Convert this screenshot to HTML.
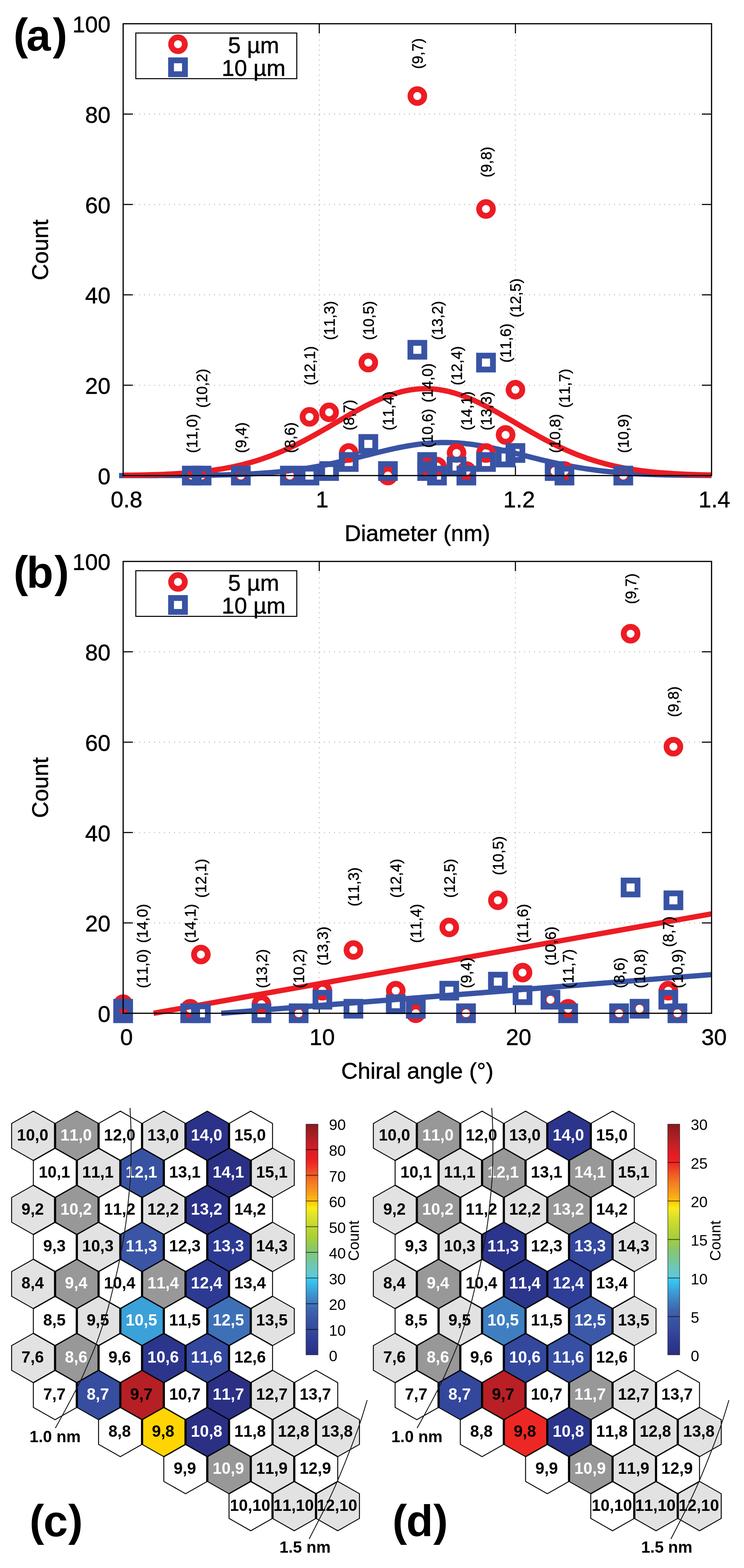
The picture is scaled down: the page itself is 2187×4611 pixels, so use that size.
<!DOCTYPE html>
<html lang="en"><head><meta charset="utf-8"><title>Chirality distribution</title>
<style>
html,body{margin:0;padding:0;background:#fff;}
body{width:2187px;height:4611px;overflow:hidden;}
svg{display:block;}
text{font-family:"Liberation Sans", sans-serif;fill:#000;font-kerning:none;}
.tk{font-size:67px;stroke:#000;stroke-width:0.8px;}
.pl{font-size:44px;stroke:#000;stroke-width:0.7px;}
.pn{font-size:129px;font-weight:bold;}
.ht{font-size:47.5px;font-weight:bold;text-anchor:middle;}
.hl{font-size:47.5px;font-weight:bold;text-anchor:middle;}
.cb{font-size:44.5px;}
text.w{fill:#fff;}
.grid{stroke:#b9b9b9;stroke-width:2.8;stroke-dasharray:2.8 11.9;}
.tick{stroke:#000;stroke-width:3.2;}
.frame{fill:none;stroke:#000;stroke-width:3.5;}
.cv{fill:none;stroke-width:15.6;stroke-linejoin:round;}
.mk{fill:none;stroke-width:17.1;}
.he{fill:none;stroke:#000;stroke-linecap:round;}
.arc{fill:none;stroke:#1a1a1a;stroke-width:2.6;}
</style></head><body>
<svg width="2187" height="4611" viewBox="0 0 2187 4611" role="img" aria-label="Chirality distribution plots">
<defs><linearGradient id="jet" x1="0" y1="1" x2="0" y2="0">
<stop offset="0.0000" stop-color="#2a2d82"/>
<stop offset="0.0640" stop-color="#2e3c96"/>
<stop offset="0.1070" stop-color="#34499e"/>
<stop offset="0.1490" stop-color="#3953a4"/>
<stop offset="0.1910" stop-color="#3d62ae"/>
<stop offset="0.2330" stop-color="#3f7fc1"/>
<stop offset="0.2760" stop-color="#3a9fd8"/>
<stop offset="0.3180" stop-color="#35c4ef"/>
<stop offset="0.3430" stop-color="#5fc9d8"/>
<stop offset="0.3820" stop-color="#6dc8b5"/>
<stop offset="0.4240" stop-color="#7cc68d"/>
<stop offset="0.4660" stop-color="#8cc863"/>
<stop offset="0.5040" stop-color="#a6ce39"/>
<stop offset="0.5510" stop-color="#bdd631"/>
<stop offset="0.5930" stop-color="#d7e02a"/>
<stop offset="0.6350" stop-color="#f8ec1c"/>
<stop offset="0.6570" stop-color="#ffd200"/>
<stop offset="0.6730" stop-color="#fdb913"/>
<stop offset="0.6990" stop-color="#f9a01b"/>
<stop offset="0.7410" stop-color="#f47f20"/>
<stop offset="0.7830" stop-color="#f15a22"/>
<stop offset="0.8170" stop-color="#ee3524"/>
<stop offset="0.8470" stop-color="#ed1c24"/>
<stop offset="0.8680" stop-color="#e51c24"/>
<stop offset="0.9100" stop-color="#c62026"/>
<stop offset="0.9530" stop-color="#a81e22"/>
<stop offset="1.0000" stop-color="#8a1a1b"/>
</linearGradient></defs>
<rect width="2187" height="4611" fill="#fff"/>
<g id="plot-a">
<line x1="394.0" y1="1132.8" x2="2059.6" y2="1132.8" class="grid"/>
<line x1="394.0" y1="867.0" x2="2059.6" y2="867.0" class="grid"/>
<line x1="394.0" y1="601.3" x2="2059.6" y2="601.3" class="grid"/>
<line x1="394.0" y1="335.5" x2="2059.6" y2="335.5" class="grid"/>
<line x1="938.5" y1="101.8" x2="938.5" y2="1366.5" class="grid"/>
<line x1="1515.1" y1="101.8" x2="1515.1" y2="1366.5" class="grid"/>
<line x1="362.0" y1="1132.8" x2="390.5" y2="1132.8" class="tick"/>
<line x1="2091.6" y1="1132.8" x2="2063.1" y2="1132.8" class="tick"/>
<line x1="362.0" y1="867.0" x2="390.5" y2="867.0" class="tick"/>
<line x1="2091.6" y1="867.0" x2="2063.1" y2="867.0" class="tick"/>
<line x1="362.0" y1="601.3" x2="390.5" y2="601.3" class="tick"/>
<line x1="2091.6" y1="601.3" x2="2063.1" y2="601.3" class="tick"/>
<line x1="362.0" y1="335.5" x2="390.5" y2="335.5" class="tick"/>
<line x1="2091.6" y1="335.5" x2="2063.1" y2="335.5" class="tick"/>
<line x1="938.5" y1="69.8" x2="938.5" y2="98.3" class="tick"/>
<line x1="938.5" y1="1398.5" x2="938.5" y2="1370.0" class="tick"/>
<line x1="1515.1" y1="69.8" x2="1515.1" y2="98.3" class="tick"/>
<line x1="1515.1" y1="1398.5" x2="1515.1" y2="1370.0" class="tick"/>
<polyline class="cv" stroke="#3953a4" points="350.0,1398.5 362.0,1398.5 369.2,1398.5 376.4,1398.5 383.6,1398.5 390.8,1398.5 398.0,1398.5 405.2,1398.4 412.4,1398.4 419.7,1398.4 426.9,1398.4 434.1,1398.4 441.3,1398.4 448.5,1398.4 455.7,1398.4 462.9,1398.4 470.1,1398.3 477.3,1398.3 484.5,1398.3 491.7,1398.3 498.9,1398.3 506.1,1398.2 513.3,1398.2 520.5,1398.2 527.8,1398.1 535.0,1398.1 542.2,1398.0 549.4,1398.0 556.6,1397.9 563.8,1397.9 571.0,1397.8 578.2,1397.8 585.4,1397.7 592.6,1397.6 599.8,1397.5 607.0,1397.4 614.2,1397.3 621.4,1397.2 628.6,1397.1 635.9,1396.9 643.1,1396.8 650.3,1396.7 657.5,1396.5 664.7,1396.3 671.9,1396.1 679.1,1395.9 686.3,1395.7 693.5,1395.4 700.7,1395.2 707.9,1394.9 715.1,1394.6 722.3,1394.3 729.5,1394.0 736.7,1393.6 744.0,1393.2 751.2,1392.8 758.4,1392.4 765.6,1391.9 772.8,1391.4 780.0,1390.9 787.2,1390.4 794.4,1389.8 801.6,1389.2 808.8,1388.6 816.0,1387.9 823.2,1387.2 830.4,1386.5 837.6,1385.7 844.8,1384.9 852.1,1384.0 859.3,1383.1 866.5,1382.2 873.7,1381.2 880.9,1380.2 888.1,1379.2 895.3,1378.1 902.5,1376.9 909.7,1375.7 916.9,1374.5 924.1,1373.3 931.3,1372.0 938.5,1370.6 945.7,1369.3 952.9,1367.8 960.2,1366.4 967.4,1364.9 974.6,1363.4 981.8,1361.8 989.0,1360.2 996.2,1358.6 1003.4,1356.9 1010.6,1355.2 1017.8,1353.5 1025.0,1351.8 1032.2,1350.0 1039.4,1348.3 1046.6,1346.5 1053.8,1344.7 1061.0,1342.9 1068.3,1341.0 1075.5,1339.2 1082.7,1337.4 1089.9,1335.6 1097.1,1333.8 1104.3,1332.0 1111.5,1330.2 1118.7,1328.5 1125.9,1326.7 1133.1,1325.0 1140.3,1323.3 1147.5,1321.7 1154.7,1320.1 1161.9,1318.5 1169.1,1317.0 1176.4,1315.5 1183.6,1314.1 1190.8,1312.8 1198.0,1311.5 1205.2,1310.3 1212.4,1309.1 1219.6,1308.0 1226.8,1307.0 1234.0,1306.1 1241.2,1305.2 1248.4,1304.4 1255.6,1303.7 1262.8,1303.1 1270.0,1302.6 1277.2,1302.2 1284.5,1301.8 1291.7,1301.6 1298.9,1301.4 1306.1,1301.4 1313.3,1301.4 1320.5,1301.5 1327.7,1301.7 1334.9,1302.0 1342.1,1302.4 1349.3,1302.9 1356.5,1303.5 1363.7,1304.1 1370.9,1304.9 1378.1,1305.7 1385.3,1306.6 1392.6,1307.6 1399.8,1308.7 1407.0,1309.8 1414.2,1311.0 1421.4,1312.3 1428.6,1313.6 1435.8,1315.0 1443.0,1316.4 1450.2,1317.9 1457.4,1319.5 1464.6,1321.0 1471.8,1322.7 1479.0,1324.3 1486.2,1326.0 1493.4,1327.8 1500.7,1329.5 1507.9,1331.3 1515.1,1333.1 1522.3,1334.9 1529.5,1336.7 1536.7,1338.5 1543.9,1340.3 1551.1,1342.1 1558.3,1343.9 1565.5,1345.7 1572.7,1347.5 1579.9,1349.3 1587.1,1351.1 1594.3,1352.8 1601.5,1354.5 1608.8,1356.2 1616.0,1357.9 1623.2,1359.6 1630.4,1361.2 1637.6,1362.7 1644.8,1364.3 1652.0,1365.8 1659.2,1367.3 1666.4,1368.7 1673.6,1370.1 1680.8,1371.4 1688.0,1372.8 1695.2,1374.0 1702.4,1375.3 1709.6,1376.5 1716.9,1377.6 1724.1,1378.7 1731.3,1379.8 1738.5,1380.8 1745.7,1381.8 1752.9,1382.7 1760.1,1383.7 1767.3,1384.5 1774.5,1385.4 1781.7,1386.1 1788.9,1386.9 1796.1,1387.6 1803.3,1388.3 1810.5,1389.0 1817.7,1389.6 1825.0,1390.2 1832.2,1390.7 1839.4,1391.2 1846.6,1391.7 1853.8,1392.2 1861.0,1392.6 1868.2,1393.1 1875.4,1393.5 1882.6,1393.8 1889.8,1394.2 1897.0,1394.5 1904.2,1394.8 1911.4,1395.1 1918.6,1395.3 1925.8,1395.6 1933.1,1395.8 1940.3,1396.0 1947.5,1396.2 1954.7,1396.4 1961.9,1396.6 1969.1,1396.7 1976.3,1396.9 1983.5,1397.0 1990.7,1397.2 1997.9,1397.3 2005.1,1397.4 2012.3,1397.5 2019.5,1397.6 2026.7,1397.7 2033.9,1397.7 2041.2,1397.8 2048.4,1397.9 2055.6,1397.9 2062.8,1398.0 2070.0,1398.0 2077.2,1398.1 2084.4,1398.1 2091.6,1398.2"/>
<polyline class="cv" stroke="#ed1c24" points="362.0,1397.6 369.2,1397.5 376.4,1397.4 383.6,1397.3 390.8,1397.2 398.0,1397.1 405.2,1397.0 412.4,1396.8 419.7,1396.7 426.9,1396.5 434.1,1396.3 441.3,1396.1 448.5,1395.9 455.7,1395.7 462.9,1395.5 470.1,1395.2 477.3,1395.0 484.5,1394.7 491.7,1394.4 498.9,1394.0 506.1,1393.7 513.3,1393.3 520.5,1392.9 527.8,1392.4 535.0,1392.0 542.2,1391.5 549.4,1390.9 556.6,1390.4 563.8,1389.8 571.0,1389.1 578.2,1388.5 585.4,1387.7 592.6,1387.0 599.8,1386.2 607.0,1385.3 614.2,1384.4 621.4,1383.5 628.6,1382.5 635.9,1381.4 643.1,1380.3 650.3,1379.1 657.5,1377.9 664.7,1376.6 671.9,1375.3 679.1,1373.8 686.3,1372.4 693.5,1370.8 700.7,1369.2 707.9,1367.5 715.1,1365.7 722.3,1363.8 729.5,1361.9 736.7,1359.9 744.0,1357.8 751.2,1355.7 758.4,1353.4 765.6,1351.1 772.8,1348.7 780.0,1346.2 787.2,1343.6 794.4,1340.9 801.6,1338.2 808.8,1335.3 816.0,1332.4 823.2,1329.4 830.4,1326.3 837.6,1323.1 844.8,1319.9 852.1,1316.6 859.3,1313.2 866.5,1309.7 873.7,1306.1 880.9,1302.5 888.1,1298.8 895.3,1295.0 902.5,1291.2 909.7,1287.3 916.9,1283.4 924.1,1279.4 931.3,1275.4 938.5,1271.3 945.7,1267.2 952.9,1263.0 960.2,1258.9 967.4,1254.7 974.6,1250.5 981.8,1246.2 989.0,1242.0 996.2,1237.8 1003.4,1233.6 1010.6,1229.4 1017.8,1225.2 1025.0,1221.0 1032.2,1216.9 1039.4,1212.9 1046.6,1208.8 1053.8,1204.9 1061.0,1201.0 1068.3,1197.2 1075.5,1193.4 1082.7,1189.7 1089.9,1186.2 1097.1,1182.7 1104.3,1179.3 1111.5,1176.1 1118.7,1173.0 1125.9,1169.9 1133.1,1167.1 1140.3,1164.3 1147.5,1161.7 1154.7,1159.3 1161.9,1157.0 1169.1,1154.9 1176.4,1152.9 1183.6,1151.1 1190.8,1149.5 1198.0,1148.0 1205.2,1146.8 1212.4,1145.7 1219.6,1144.8 1226.8,1144.0 1234.0,1143.5 1241.2,1143.2 1248.4,1143.0 1255.6,1143.0 1262.8,1143.3 1270.0,1143.7 1277.2,1144.3 1284.5,1145.1 1291.7,1146.0 1298.9,1147.2 1306.1,1148.5 1313.3,1150.0 1320.5,1151.7 1327.7,1153.6 1334.9,1155.6 1342.1,1157.8 1349.3,1160.2 1356.5,1162.7 1363.7,1165.3 1370.9,1168.1 1378.1,1171.0 1385.3,1174.1 1392.6,1177.2 1399.8,1180.5 1407.0,1183.9 1414.2,1187.4 1421.4,1191.1 1428.6,1194.7 1435.8,1198.5 1443.0,1202.4 1450.2,1206.3 1457.4,1210.3 1464.6,1214.3 1471.8,1218.4 1479.0,1222.5 1486.2,1226.7 1493.4,1230.9 1500.7,1235.1 1507.9,1239.3 1515.1,1243.5 1522.3,1247.7 1529.5,1252.0 1536.7,1256.2 1543.9,1260.4 1551.1,1264.5 1558.3,1268.7 1565.5,1272.8 1572.7,1276.8 1579.9,1280.8 1587.1,1284.8 1594.3,1288.7 1601.5,1292.6 1608.8,1296.4 1616.0,1300.1 1623.2,1303.8 1630.4,1307.4 1637.6,1310.9 1644.8,1314.4 1652.0,1317.8 1659.2,1321.1 1666.4,1324.3 1673.6,1327.4 1680.8,1330.5 1688.0,1333.5 1695.2,1336.4 1702.4,1339.2 1709.6,1341.9 1716.9,1344.5 1724.1,1347.1 1731.3,1349.5 1738.5,1351.9 1745.7,1354.2 1752.9,1356.4 1760.1,1358.6 1767.3,1360.6 1774.5,1362.6 1781.7,1364.5 1788.9,1366.3 1796.1,1368.1 1803.3,1369.8 1810.5,1371.4 1817.7,1372.9 1825.0,1374.4 1832.2,1375.8 1839.4,1377.1 1846.6,1378.4 1853.8,1379.6 1861.0,1380.7 1868.2,1381.8 1875.4,1382.8 1882.6,1383.8 1889.8,1384.8 1897.0,1385.6 1904.2,1386.5 1911.4,1387.3 1918.6,1388.0 1925.8,1388.7 1933.1,1389.4 1940.3,1390.0 1947.5,1390.6 1954.7,1391.1 1961.9,1391.6 1969.1,1392.1 1976.3,1392.6 1983.5,1393.0 1990.7,1393.4 1997.9,1393.8 2005.1,1394.1 2012.3,1394.5 2019.5,1394.8 2026.7,1395.1 2033.9,1395.3 2041.2,1395.6 2048.4,1395.8 2055.6,1396.0 2062.8,1396.2 2070.0,1396.4 2077.2,1396.6 2084.4,1396.7 2091.6,1396.9"/>
<circle class="mk" stroke="#ed1c24" cx="563.8" cy="1398.5" r="20.2"/>
<circle class="mk" stroke="#ed1c24" cx="592.6" cy="1398.5" r="20.2"/>
<circle class="mk" stroke="#ed1c24" cx="707.9" cy="1398.5" r="20.2"/>
<circle class="mk" stroke="#ed1c24" cx="852.1" cy="1398.5" r="20.2"/>
<circle class="mk" stroke="#ed1c24" cx="909.7" cy="1225.8" r="20.2"/>
<circle class="mk" stroke="#ed1c24" cx="967.4" cy="1212.5" r="20.2"/>
<circle class="mk" stroke="#ed1c24" cx="1025.0" cy="1332.1" r="20.2"/>
<circle class="mk" stroke="#ed1c24" cx="1082.7" cy="1066.3" r="20.2"/>
<circle class="mk" stroke="#ed1c24" cx="1140.3" cy="1398.5" r="20.2"/>
<circle class="mk" stroke="#ed1c24" cx="1226.8" cy="282.4" r="20.2"/>
<circle class="mk" stroke="#ed1c24" cx="1255.6" cy="1358.6" r="20.2"/>
<circle class="mk" stroke="#ed1c24" cx="1255.6" cy="1371.9" r="20.2"/>
<circle class="mk" stroke="#ed1c24" cx="1284.5" cy="1371.9" r="20.2"/>
<circle class="mk" stroke="#ed1c24" cx="1342.1" cy="1332.1" r="20.2"/>
<circle class="mk" stroke="#ed1c24" cx="1370.9" cy="1385.2" r="20.2"/>
<circle class="mk" stroke="#ed1c24" cx="1428.6" cy="614.6" r="20.2"/>
<circle class="mk" stroke="#ed1c24" cx="1428.6" cy="1332.1" r="20.2"/>
<circle class="mk" stroke="#ed1c24" cx="1486.2" cy="1278.9" r="20.2"/>
<circle class="mk" stroke="#ed1c24" cx="1515.1" cy="1146.0" r="20.2"/>
<circle class="mk" stroke="#ed1c24" cx="1630.4" cy="1385.2" r="20.2"/>
<circle class="mk" stroke="#ed1c24" cx="1659.2" cy="1385.2" r="20.2"/>
<circle class="mk" stroke="#ed1c24" cx="1832.2" cy="1398.5" r="20.2"/>
<rect class="mk" stroke="#3953a4" x="543.4" y="1378.1" width="40.8" height="40.8"/>
<rect class="mk" stroke="#3953a4" x="572.2" y="1378.1" width="40.8" height="40.8"/>
<rect class="mk" stroke="#3953a4" x="687.5" y="1378.1" width="40.8" height="40.8"/>
<rect class="mk" stroke="#3953a4" x="831.7" y="1378.1" width="40.8" height="40.8"/>
<rect class="mk" stroke="#3953a4" x="889.3" y="1378.1" width="40.8" height="40.8"/>
<rect class="mk" stroke="#3953a4" x="947.0" y="1364.8" width="40.8" height="40.8"/>
<rect class="mk" stroke="#3953a4" x="1004.6" y="1338.2" width="40.8" height="40.8"/>
<rect class="mk" stroke="#3953a4" x="1062.3" y="1285.1" width="40.8" height="40.8"/>
<rect class="mk" stroke="#3953a4" x="1119.9" y="1364.8" width="40.8" height="40.8"/>
<rect class="mk" stroke="#3953a4" x="1206.4" y="1008.2" width="40.8" height="40.8"/>
<rect class="mk" stroke="#3953a4" x="1235.2" y="1338.2" width="40.8" height="40.8"/>
<rect class="mk" stroke="#3953a4" x="1235.2" y="1364.8" width="40.8" height="40.8"/>
<rect class="mk" stroke="#3953a4" x="1264.1" y="1378.1" width="40.8" height="40.8"/>
<rect class="mk" stroke="#3953a4" x="1321.7" y="1351.5" width="40.8" height="40.8"/>
<rect class="mk" stroke="#3953a4" x="1350.5" y="1378.1" width="40.8" height="40.8"/>
<rect class="mk" stroke="#3953a4" x="1408.2" y="1045.9" width="40.8" height="40.8"/>
<rect class="mk" stroke="#3953a4" x="1408.2" y="1338.2" width="40.8" height="40.8"/>
<rect class="mk" stroke="#3953a4" x="1465.8" y="1325.0" width="40.8" height="40.8"/>
<rect class="mk" stroke="#3953a4" x="1494.7" y="1311.7" width="40.8" height="40.8"/>
<rect class="mk" stroke="#3953a4" x="1610.0" y="1364.8" width="40.8" height="40.8"/>
<rect class="mk" stroke="#3953a4" x="1638.8" y="1378.1" width="40.8" height="40.8"/>
<rect class="mk" stroke="#3953a4" x="1811.8" y="1378.1" width="40.8" height="40.8"/>
<rect x="362.0" y="69.8" width="1729.6" height="1328.7" class="frame"/>
<rect x="399.2" y="97.1" width="473.2" height="134.2" fill="#fff" stroke="#000" stroke-width="3"/>
<circle class="mk" stroke="#ed1c24" cx="523.2" cy="130.1" r="20.2"/>
<rect class="mk" stroke="#3953a4" x="502.8" y="177.4" width="40.8" height="40.8"/>
<text class="tk" text-anchor="middle" x="745.5" y="155.8">5 µm</text>
<text class="tk" text-anchor="middle" x="745.5" y="223.2">10 µm</text>
<text class="tk" text-anchor="end" x="324.8" y="1423.9">0</text>
<text class="tk" text-anchor="end" x="324.8" y="1158.2">20</text>
<text class="tk" text-anchor="end" x="324.8" y="892.4">40</text>
<text class="tk" text-anchor="end" x="324.8" y="626.7">60</text>
<text class="tk" text-anchor="end" x="324.8" y="360.9">80</text>
<text class="tk" text-anchor="end" x="324.8" y="95.2">100</text>
<text class="tk" text-anchor="middle" x="372" y="1491.7">0.8</text>
<text class="tk" text-anchor="middle" x="947" y="1491.7">1</text>
<text class="tk" text-anchor="middle" x="1526" y="1491.7">1.2</text>
<text class="tk" text-anchor="middle" x="2100" y="1491.7">1.4</text>
<text class="tk" text-anchor="middle" transform="translate(140.6,734.9) rotate(-90)">Count</text>
<text class="tk" text-anchor="middle" x="1226.8" y="1591.0">Diameter (nm)</text>
<text class="pl" transform="translate(580.0,1332.2) rotate(-90)">(11,0)</text>
<text class="pl" transform="translate(608.8,1199.3) rotate(-90)">(10,2)</text>
<text class="pl" transform="translate(724.1,1332.2) rotate(-90)">(9,4)</text>
<text class="pl" transform="translate(868.3,1332.2) rotate(-90)">(8,6)</text>
<text class="pl" transform="translate(925.9,1132.9) rotate(-90)">(12,1)</text>
<text class="pl" transform="translate(983.6,1000.0) rotate(-90)">(11,3)</text>
<text class="pl" transform="translate(1041.2,1265.7) rotate(-90)">(8,7)</text>
<text class="pl" transform="translate(1098.9,1000.0) rotate(-90)">(10,5)</text>
<text class="pl" transform="translate(1156.5,1265.7) rotate(-90)">(11,4)</text>
<text class="pl" transform="translate(1271.8,1317.0) rotate(-90)">(10,6)</text>
<text class="pl" transform="translate(1271.8,1183.4) rotate(-90)">(14,0)</text>
<text class="pl" transform="translate(1300.7,1000.0) rotate(-90)">(13,2)</text>
<text class="pl" transform="translate(1358.3,1132.9) rotate(-90)">(12,4)</text>
<text class="pl" transform="translate(1387.1,1265.7) rotate(-90)">(14,1)</text>
<text class="pl" transform="translate(1444.8,1265.7) rotate(-90)">(13,3)</text>
<text class="pl" transform="translate(1502.4,1066.4) rotate(-90)">(11,6)</text>
<text class="pl" transform="translate(1531.3,933.6) rotate(-90)">(12,5)</text>
<text class="pl" transform="translate(1646.6,1332.2) rotate(-90)">(10,8)</text>
<text class="pl" transform="translate(1675.4,1199.3) rotate(-90)">(11,7)</text>
<text class="pl" transform="translate(1848.4,1332.2) rotate(-90)">(10,9)</text>
<text class="pl" transform="translate(1243.0,202.8) rotate(-90)">(9,7)</text>
<text class="pl" transform="translate(1444.8,521.7) rotate(-90)">(9,8)</text>
</g>
<g id="plot-b">
<line x1="394.0" y1="2714.0" x2="2059.6" y2="2714.0" class="grid"/>
<line x1="394.0" y1="2448.2" x2="2059.6" y2="2448.2" class="grid"/>
<line x1="394.0" y1="2182.5" x2="2059.6" y2="2182.5" class="grid"/>
<line x1="394.0" y1="1916.7" x2="2059.6" y2="1916.7" class="grid"/>
<line x1="938.5" y1="1683.0" x2="938.5" y2="2947.7" class="grid"/>
<line x1="1515.1" y1="1683.0" x2="1515.1" y2="2947.7" class="grid"/>
<line x1="362.0" y1="2714.0" x2="390.5" y2="2714.0" class="tick"/>
<line x1="2091.6" y1="2714.0" x2="2063.1" y2="2714.0" class="tick"/>
<line x1="362.0" y1="2448.2" x2="390.5" y2="2448.2" class="tick"/>
<line x1="2091.6" y1="2448.2" x2="2063.1" y2="2448.2" class="tick"/>
<line x1="362.0" y1="2182.5" x2="390.5" y2="2182.5" class="tick"/>
<line x1="2091.6" y1="2182.5" x2="2063.1" y2="2182.5" class="tick"/>
<line x1="362.0" y1="1916.7" x2="390.5" y2="1916.7" class="tick"/>
<line x1="2091.6" y1="1916.7" x2="2063.1" y2="1916.7" class="tick"/>
<line x1="938.5" y1="1651.0" x2="938.5" y2="1679.5" class="tick"/>
<line x1="938.5" y1="2979.7" x2="938.5" y2="2951.2" class="tick"/>
<line x1="1515.1" y1="1651.0" x2="1515.1" y2="1679.5" class="tick"/>
<line x1="1515.1" y1="2979.7" x2="1515.1" y2="2951.2" class="tick"/>
<line class="cv" stroke="#ed1c24" x1="451.4" y1="2979.7" x2="2091.6" y2="2687.4"/>
<line class="cv" stroke="#3953a4" x1="650.3" y1="2979.7" x2="2091.6" y2="2866.0"/>
<circle class="mk" stroke="#ed1c24" cx="362.0" cy="2979.7" r="20.2"/>
<circle class="mk" stroke="#ed1c24" cx="877.9" cy="2979.7" r="20.2"/>
<circle class="mk" stroke="#ed1c24" cx="1369.8" cy="2979.7" r="20.2"/>
<circle class="mk" stroke="#ed1c24" cx="1819.8" cy="2979.7" r="20.2"/>
<circle class="mk" stroke="#ed1c24" cx="590.5" cy="2807.0" r="20.2"/>
<circle class="mk" stroke="#ed1c24" cx="1038.9" cy="2793.7" r="20.2"/>
<circle class="mk" stroke="#ed1c24" cx="1964.5" cy="2913.3" r="20.2"/>
<circle class="mk" stroke="#ed1c24" cx="1463.6" cy="2647.5" r="20.2"/>
<circle class="mk" stroke="#ed1c24" cx="1222.2" cy="2979.7" r="20.2"/>
<circle class="mk" stroke="#ed1c24" cx="1853.6" cy="1863.6" r="20.2"/>
<circle class="mk" stroke="#ed1c24" cx="1618.1" cy="2939.8" r="20.2"/>
<circle class="mk" stroke="#ed1c24" cx="362.0" cy="2953.1" r="20.2"/>
<circle class="mk" stroke="#ed1c24" cx="768.6" cy="2953.1" r="20.2"/>
<circle class="mk" stroke="#ed1c24" cx="1163.3" cy="2913.3" r="20.2"/>
<circle class="mk" stroke="#ed1c24" cx="559.1" cy="2966.4" r="20.2"/>
<circle class="mk" stroke="#ed1c24" cx="1979.5" cy="2195.8" r="20.2"/>
<circle class="mk" stroke="#ed1c24" cx="947.7" cy="2913.3" r="20.2"/>
<circle class="mk" stroke="#ed1c24" cx="1536.0" cy="2860.1" r="20.2"/>
<circle class="mk" stroke="#ed1c24" cx="1320.6" cy="2727.2" r="20.2"/>
<circle class="mk" stroke="#ed1c24" cx="1880.0" cy="2966.4" r="20.2"/>
<circle class="mk" stroke="#ed1c24" cx="1670.1" cy="2966.4" r="20.2"/>
<circle class="mk" stroke="#ed1c24" cx="1991.3" cy="2979.7" r="20.2"/>
<rect class="mk" stroke="#3953a4" x="341.6" y="2959.3" width="40.8" height="40.8"/>
<rect class="mk" stroke="#3953a4" x="857.5" y="2959.3" width="40.8" height="40.8"/>
<rect class="mk" stroke="#3953a4" x="1349.4" y="2959.3" width="40.8" height="40.8"/>
<rect class="mk" stroke="#3953a4" x="1799.4" y="2959.3" width="40.8" height="40.8"/>
<rect class="mk" stroke="#3953a4" x="570.1" y="2959.3" width="40.8" height="40.8"/>
<rect class="mk" stroke="#3953a4" x="1018.5" y="2946.0" width="40.8" height="40.8"/>
<rect class="mk" stroke="#3953a4" x="1944.1" y="2919.4" width="40.8" height="40.8"/>
<rect class="mk" stroke="#3953a4" x="1443.2" y="2866.3" width="40.8" height="40.8"/>
<rect class="mk" stroke="#3953a4" x="1201.8" y="2946.0" width="40.8" height="40.8"/>
<rect class="mk" stroke="#3953a4" x="1833.2" y="2589.4" width="40.8" height="40.8"/>
<rect class="mk" stroke="#3953a4" x="1597.7" y="2919.4" width="40.8" height="40.8"/>
<rect class="mk" stroke="#3953a4" x="341.6" y="2946.0" width="40.8" height="40.8"/>
<rect class="mk" stroke="#3953a4" x="748.2" y="2959.3" width="40.8" height="40.8"/>
<rect class="mk" stroke="#3953a4" x="1142.9" y="2932.7" width="40.8" height="40.8"/>
<rect class="mk" stroke="#3953a4" x="538.7" y="2959.3" width="40.8" height="40.8"/>
<rect class="mk" stroke="#3953a4" x="1959.1" y="2627.1" width="40.8" height="40.8"/>
<rect class="mk" stroke="#3953a4" x="927.3" y="2919.4" width="40.8" height="40.8"/>
<rect class="mk" stroke="#3953a4" x="1515.6" y="2906.2" width="40.8" height="40.8"/>
<rect class="mk" stroke="#3953a4" x="1300.2" y="2892.9" width="40.8" height="40.8"/>
<rect class="mk" stroke="#3953a4" x="1859.6" y="2946.0" width="40.8" height="40.8"/>
<rect class="mk" stroke="#3953a4" x="1649.7" y="2959.3" width="40.8" height="40.8"/>
<rect class="mk" stroke="#3953a4" x="1970.9" y="2959.3" width="40.8" height="40.8"/>
<rect x="362.0" y="1651.0" width="1729.6" height="1328.7" class="frame"/>
<rect x="399.2" y="1678.3" width="473.2" height="134.2" fill="#fff" stroke="#000" stroke-width="3"/>
<circle class="mk" stroke="#ed1c24" cx="523.2" cy="1711.3" r="20.2"/>
<rect class="mk" stroke="#3953a4" x="502.8" y="1758.6" width="40.8" height="40.8"/>
<text class="tk" text-anchor="middle" x="745.5" y="1737.0">5 µm</text>
<text class="tk" text-anchor="middle" x="745.5" y="1804.4">10 µm</text>
<text class="tk" text-anchor="end" x="324.8" y="3005.1">0</text>
<text class="tk" text-anchor="end" x="324.8" y="2739.4">20</text>
<text class="tk" text-anchor="end" x="324.8" y="2473.6">40</text>
<text class="tk" text-anchor="end" x="324.8" y="2207.9">60</text>
<text class="tk" text-anchor="end" x="324.8" y="1942.1">80</text>
<text class="tk" text-anchor="end" x="324.8" y="1676.4">100</text>
<text class="tk" text-anchor="middle" x="372" y="3072.9">0</text>
<text class="tk" text-anchor="middle" x="947" y="3072.9">10</text>
<text class="tk" text-anchor="middle" x="1524.5" y="3072.9">20</text>
<text class="tk" text-anchor="middle" x="2099" y="3072.9">30</text>
<text class="tk" text-anchor="middle" transform="translate(140.6,2316.2) rotate(-90)">Count</text>
<text class="tk" text-anchor="middle" x="1226.8" y="3172.2">Chiral angle (°)</text>
<text class="pl" transform="translate(433.9,2906.0) rotate(-90)">(11,0)</text>
<text class="pl" transform="translate(433.9,2773.1) rotate(-90)">(14,0)</text>
<text class="pl" transform="translate(575.0,2773.1) rotate(-90)">(14,1)</text>
<text class="pl" transform="translate(606.4,2640.2) rotate(-90)">(12,1)</text>
<text class="pl" transform="translate(784.5,2906.0) rotate(-90)">(13,2)</text>
<text class="pl" transform="translate(893.8,2906.0) rotate(-90)">(10,2)</text>
<text class="pl" transform="translate(963.6,2839.5) rotate(-90)">(13,3)</text>
<text class="pl" transform="translate(1054.8,2665.5) rotate(-90)">(11,3)</text>
<text class="pl" transform="translate(1179.2,2640.2) rotate(-90)">(12,4)</text>
<text class="pl" transform="translate(1238.1,2773.1) rotate(-90)">(11,4)</text>
<text class="pl" transform="translate(1336.5,2640.2) rotate(-90)">(12,5)</text>
<text class="pl" transform="translate(1385.7,2906.0) rotate(-90)">(9,4)</text>
<text class="pl" transform="translate(1479.5,2573.8) rotate(-90)">(10,5)</text>
<text class="pl" transform="translate(1551.9,2773.1) rotate(-90)">(11,6)</text>
<text class="pl" transform="translate(1634.0,2839.5) rotate(-90)">(10,6)</text>
<text class="pl" transform="translate(1686.0,2906.0) rotate(-90)">(11,7)</text>
<text class="pl" transform="translate(1835.7,2906.0) rotate(-90)">(8,6)</text>
<text class="pl" transform="translate(1895.9,2906.0) rotate(-90)">(10,8)</text>
<text class="pl" transform="translate(1980.4,2785.1) rotate(-90)">(8,7)</text>
<text class="pl" transform="translate(2007.2,2906.0) rotate(-90)">(10,9)</text>
<text class="pl" transform="translate(1869.5,1776.6) rotate(-90)">(9,7)</text>
<text class="pl" transform="translate(1995.4,2108.7) rotate(-90)">(9,8)</text>
</g>
<g id="map-c">
<polygon fill="#e1e2e1" points="98.0,3267.5 161.9,3303.8 161.9,3376.4 98.0,3412.7 34.1,3376.4 34.1,3303.8"/>
<polygon fill="#989898" points="225.8,3267.5 289.7,3303.8 289.7,3376.4 225.8,3412.7 161.9,3376.4 161.9,3303.8"/>
<polygon fill="#e1e2e1" points="481.5,3267.5 545.4,3303.8 545.4,3376.4 481.5,3412.7 417.6,3376.4 417.6,3303.8"/>
<polygon fill="#2b3289" points="609.3,3267.5 673.2,3303.8 673.2,3376.4 609.3,3412.7 545.4,3376.4 545.4,3303.8"/>
<polygon fill="#e1e2e1" points="289.7,3376.4 353.7,3412.7 353.7,3485.3 289.7,3521.6 225.8,3485.3 225.8,3412.7"/>
<polygon fill="#3852a3" points="417.6,3376.4 481.5,3412.7 481.5,3485.3 417.6,3521.6 353.7,3485.3 353.7,3412.7"/>
<polygon fill="#2b3085" points="673.2,3376.4 737.1,3412.7 737.1,3485.3 673.2,3521.6 609.3,3485.3 609.3,3412.7"/>
<polygon fill="#e1e2e1" points="801.1,3376.4 865.0,3412.7 865.0,3485.3 801.1,3521.6 737.1,3485.3 737.1,3412.7"/>
<polygon fill="#e1e2e1" points="98.0,3485.3 161.9,3521.6 161.9,3594.2 98.0,3630.4 34.1,3594.2 34.1,3521.6"/>
<polygon fill="#989898" points="225.8,3485.3 289.7,3521.6 289.7,3594.2 225.8,3630.4 161.9,3594.2 161.9,3521.6"/>
<polygon fill="#e1e2e1" points="481.5,3485.3 545.4,3521.6 545.4,3594.2 481.5,3630.4 417.6,3594.2 417.6,3521.6"/>
<polygon fill="#2b3289" points="609.3,3485.3 673.2,3521.6 673.2,3594.2 609.3,3630.4 545.4,3594.2 545.4,3521.6"/>
<polygon fill="#e1e2e1" points="289.7,3594.2 353.7,3630.4 353.7,3703.0 289.7,3739.3 225.8,3703.0 225.8,3630.4"/>
<polygon fill="#3a55a6" points="417.6,3594.2 481.5,3630.4 481.5,3703.0 417.6,3739.3 353.7,3703.0 353.7,3630.4"/>
<polygon fill="#2d3a93" points="673.2,3594.2 737.1,3630.4 737.1,3703.0 673.2,3739.3 609.3,3703.0 609.3,3630.4"/>
<polygon fill="#e1e2e1" points="801.1,3594.2 865.0,3630.4 865.0,3703.0 801.1,3739.3 737.1,3703.0 737.1,3630.4"/>
<polygon fill="#e1e2e1" points="98.0,3703.0 161.9,3739.3 161.9,3811.9 98.0,3848.2 34.1,3811.9 34.1,3739.3"/>
<polygon fill="#989898" points="225.8,3703.0 289.7,3739.3 289.7,3811.9 225.8,3848.2 161.9,3811.9 161.9,3739.3"/>
<polygon fill="#989898" points="481.5,3703.0 545.4,3739.3 545.4,3811.9 481.5,3848.2 417.6,3811.9 417.6,3739.3"/>
<polygon fill="#2d3a93" points="609.3,3703.0 673.2,3739.3 673.2,3811.9 609.3,3848.2 545.4,3811.9 545.4,3739.3"/>
<polygon fill="#e1e2e1" points="289.7,3811.9 353.7,3848.2 353.7,3920.8 289.7,3957.1 225.8,3920.8 225.8,3848.2"/>
<polygon fill="#3aa1d9" points="417.6,3811.9 481.5,3848.2 481.5,3920.8 417.6,3957.1 353.7,3920.8 353.7,3848.2"/>
<polygon fill="#3e70b7" points="673.2,3811.9 737.1,3848.2 737.1,3920.8 673.2,3957.1 609.3,3920.8 609.3,3848.2"/>
<polygon fill="#e1e2e1" points="801.1,3811.9 865.0,3848.2 865.0,3920.8 801.1,3957.1 737.1,3920.8 737.1,3848.2"/>
<polygon fill="#e1e2e1" points="98.0,3920.8 161.9,3957.1 161.9,4029.7 98.0,4066.0 34.1,4029.7 34.1,3957.1"/>
<polygon fill="#989898" points="225.8,3920.8 289.7,3957.1 289.7,4029.7 225.8,4066.0 161.9,4029.7 161.9,3957.1"/>
<polygon fill="#2c358c" points="481.5,3920.8 545.4,3957.1 545.4,4029.7 481.5,4066.0 417.6,4029.7 417.6,3957.1"/>
<polygon fill="#33479d" points="609.3,3920.8 673.2,3957.1 673.2,4029.7 609.3,4066.0 545.4,4029.7 545.4,3957.1"/>
<polygon fill="#364da0" points="289.7,4029.7 353.7,4066.0 353.7,4138.6 289.7,4174.8 225.8,4138.6 225.8,4066.0"/>
<polygon fill="#b61f24" points="417.6,4029.7 481.5,4066.0 481.5,4138.6 417.6,4174.8 353.7,4138.6 353.7,4066.0"/>
<polygon fill="#2b3085" points="673.2,4029.7 737.1,4066.0 737.1,4138.6 673.2,4174.8 609.3,4138.6 609.3,4066.0"/>
<polygon fill="#e1e2e1" points="801.1,4029.7 865.0,4066.0 865.0,4138.6 801.1,4174.8 737.1,4138.6 737.1,4066.0"/>
<polygon fill="#ffd402" points="481.5,4138.6 545.4,4174.8 545.4,4247.4 481.5,4283.7 417.6,4247.4 417.6,4174.8"/>
<polygon fill="#2b3085" points="609.3,4138.6 673.2,4174.8 673.2,4247.4 609.3,4283.7 545.4,4247.4 545.4,4174.8"/>
<polygon fill="#e1e2e1" points="865.0,4138.6 928.9,4174.8 928.9,4247.4 865.0,4283.7 801.1,4247.4 801.1,4174.8"/>
<polygon fill="#e1e2e1" points="992.8,4138.6 1056.7,4174.8 1056.7,4247.4 992.8,4283.7 928.9,4247.4 928.9,4174.8"/>
<polygon fill="#989898" points="673.2,4247.4 737.1,4283.7 737.1,4356.3 673.2,4392.6 609.3,4356.3 609.3,4283.7"/>
<polygon fill="#e1e2e1" points="801.1,4247.4 865.0,4283.7 865.0,4356.3 801.1,4392.6 737.1,4356.3 737.1,4283.7"/>
<polygon fill="#e1e2e1" points="865.0,4356.3 928.9,4392.6 928.9,4465.2 865.0,4501.5 801.1,4465.2 801.1,4392.6"/>
<polygon fill="#e1e2e1" points="992.8,4356.3 1056.7,4392.6 1056.7,4465.2 992.8,4501.5 928.9,4465.2 928.9,4392.6"/>
<path class="he" stroke-width="2.7" d="M98.0 3267.5L161.9 3303.8M98.0 3412.7L34.1 3376.4M34.1 3376.4L34.1 3303.8M34.1 3303.8L98.0 3267.5M225.8 3267.5L289.7 3303.8M161.9 3303.8L225.8 3267.5M353.7 3267.5L417.6 3303.8M289.7 3303.8L353.7 3267.5M481.5 3267.5L545.4 3303.8M417.6 3303.8L481.5 3267.5M609.3 3267.5L673.2 3303.8M545.4 3303.8L609.3 3267.5M737.1 3267.5L801.1 3303.8M801.1 3303.8L801.1 3376.4M673.2 3303.8L737.1 3267.5M98.0 3485.3L98.0 3412.7M801.1 3376.4L865.0 3412.7M865.0 3412.7L865.0 3485.3M865.0 3485.3L801.1 3521.6M98.0 3630.4L34.1 3594.2M34.1 3594.2L34.1 3521.6M34.1 3521.6L98.0 3485.3M801.1 3521.6L801.1 3594.2M98.0 3703.0L98.0 3630.4M801.1 3594.2L865.0 3630.4M865.0 3630.4L865.0 3703.0M865.0 3703.0L801.1 3739.3M98.0 3848.2L34.1 3811.9M34.1 3811.9L34.1 3739.3M34.1 3739.3L98.0 3703.0M801.1 3739.3L801.1 3811.9M98.0 3920.8L98.0 3848.2M801.1 3811.9L865.0 3848.2M865.0 3848.2L865.0 3920.8M865.0 3920.8L801.1 3957.1M98.0 4066.0L34.1 4029.7M34.1 4029.7L34.1 3957.1M34.1 3957.1L98.0 3920.8M801.1 3957.1L801.1 4029.7M225.8 4138.6L161.9 4174.8M161.9 4174.8L98.0 4138.6M98.0 4138.6L98.0 4066.0M289.7 4174.8L225.8 4138.6M801.1 4029.7L865.0 4066.0M928.9 4029.7L992.8 4066.0M992.8 4066.0L992.8 4138.6M865.0 4066.0L928.9 4029.7M417.6 4247.4L353.7 4283.7M353.7 4283.7L289.7 4247.4M289.7 4247.4L289.7 4174.8M481.5 4283.7L417.6 4247.4M992.8 4138.6L1056.7 4174.8M1056.7 4174.8L1056.7 4247.4M1056.7 4247.4L992.8 4283.7M609.3 4356.3L545.4 4392.6M545.4 4392.6L481.5 4356.3M481.5 4356.3L481.5 4283.7M673.2 4392.6L609.3 4356.3M992.8 4283.7L992.8 4356.3M801.1 4465.2L737.1 4501.5M737.1 4501.5L673.2 4465.2M673.2 4465.2L673.2 4392.6M928.9 4465.2L865.0 4501.5M865.0 4501.5L801.1 4465.2M992.8 4356.3L1056.7 4392.6M1056.7 4392.6L1056.7 4465.2M1056.7 4465.2L992.8 4501.5M992.8 4501.5L928.9 4465.2"/>
<path class="he" stroke-width="3.7" d="M161.9 3376.4L98.0 3412.7M289.7 3376.4L225.8 3412.7M225.8 3412.7L161.9 3376.4M417.6 3376.4L353.7 3412.7M353.7 3412.7L289.7 3376.4M545.4 3376.4L481.5 3412.7M481.5 3412.7L417.6 3376.4M673.2 3376.4L609.3 3412.7M609.3 3412.7L545.4 3376.4M801.1 3376.4L737.1 3412.7M737.1 3412.7L673.2 3376.4M225.8 3485.3L161.9 3521.6M161.9 3521.6L98.0 3485.3M353.7 3485.3L289.7 3521.6M289.7 3521.6L225.8 3485.3M481.5 3485.3L417.6 3521.6M417.6 3521.6L353.7 3485.3M609.3 3485.3L545.4 3521.6M545.4 3521.6L481.5 3485.3M737.1 3485.3L673.2 3521.6M673.2 3521.6L609.3 3485.3M801.1 3521.6L737.1 3485.3M161.9 3594.2L98.0 3630.4M289.7 3594.2L225.8 3630.4M225.8 3630.4L161.9 3594.2M417.6 3594.2L353.7 3630.4M353.7 3630.4L289.7 3594.2M545.4 3594.2L481.5 3630.4M481.5 3630.4L417.6 3594.2M673.2 3594.2L609.3 3630.4M609.3 3630.4L545.4 3594.2M801.1 3594.2L737.1 3630.4M737.1 3630.4L673.2 3594.2M225.8 3703.0L161.9 3739.3M161.9 3739.3L98.0 3703.0M353.7 3703.0L289.7 3739.3M289.7 3739.3L225.8 3703.0M481.5 3703.0L417.6 3739.3M417.6 3739.3L353.7 3703.0M609.3 3703.0L545.4 3739.3M545.4 3739.3L481.5 3703.0M737.1 3703.0L673.2 3739.3M673.2 3739.3L609.3 3703.0M801.1 3739.3L737.1 3703.0M161.9 3811.9L98.0 3848.2M289.7 3811.9L225.8 3848.2M225.8 3848.2L161.9 3811.9M417.6 3811.9L353.7 3848.2M353.7 3848.2L289.7 3811.9M545.4 3811.9L481.5 3848.2M481.5 3848.2L417.6 3811.9M673.2 3811.9L609.3 3848.2M609.3 3848.2L545.4 3811.9M801.1 3811.9L737.1 3848.2M737.1 3848.2L673.2 3811.9M225.8 3920.8L161.9 3957.1M161.9 3957.1L98.0 3920.8M353.7 3920.8L289.7 3957.1M289.7 3957.1L225.8 3920.8M481.5 3920.8L417.6 3957.1M417.6 3957.1L353.7 3920.8M609.3 3920.8L545.4 3957.1M545.4 3957.1L481.5 3920.8M737.1 3920.8L673.2 3957.1M673.2 3957.1L609.3 3920.8M801.1 3957.1L737.1 3920.8M161.9 4029.7L98.0 4066.0M289.7 4029.7L225.8 4066.0M225.8 4066.0L161.9 4029.7M417.6 4029.7L353.7 4066.0M353.7 4066.0L289.7 4029.7M545.4 4029.7L481.5 4066.0M481.5 4066.0L417.6 4029.7M673.2 4029.7L609.3 4066.0M609.3 4066.0L545.4 4029.7M801.1 4029.7L737.1 4066.0M737.1 4066.0L673.2 4029.7M353.7 4138.6L289.7 4174.8M481.5 4138.6L417.6 4174.8M417.6 4174.8L353.7 4138.6M609.3 4138.6L545.4 4174.8M545.4 4174.8L481.5 4138.6M737.1 4138.6L673.2 4174.8M673.2 4174.8L609.3 4138.6M865.0 4138.6L801.1 4174.8M801.1 4174.8L737.1 4138.6M992.8 4138.6L928.9 4174.8M928.9 4174.8L865.0 4138.6M545.4 4247.4L481.5 4283.7M673.2 4247.4L609.3 4283.7M609.3 4283.7L545.4 4247.4M801.1 4247.4L737.1 4283.7M737.1 4283.7L673.2 4247.4M928.9 4247.4L865.0 4283.7M865.0 4283.7L801.1 4247.4M992.8 4283.7L928.9 4247.4M737.1 4356.3L673.2 4392.6M865.0 4356.3L801.1 4392.6M801.1 4392.6L737.1 4356.3M992.8 4356.3L928.9 4392.6M928.9 4392.6L865.0 4356.3"/>
<path class="he" style="stroke-linecap:butt" stroke-width="6.4" d="M161.9 3303.8L161.9 3376.4M289.7 3303.8L289.7 3376.4M417.6 3303.8L417.6 3376.4M545.4 3303.8L545.4 3376.4M673.2 3303.8L673.2 3376.4M225.8 3412.7L225.8 3485.3M353.7 3412.7L353.7 3485.3M481.5 3412.7L481.5 3485.3M609.3 3412.7L609.3 3485.3M737.1 3412.7L737.1 3485.3M161.9 3521.6L161.9 3594.2M289.7 3521.6L289.7 3594.2M417.6 3521.6L417.6 3594.2M545.4 3521.6L545.4 3594.2M673.2 3521.6L673.2 3594.2M225.8 3630.4L225.8 3703.0M353.7 3630.4L353.7 3703.0M481.5 3630.4L481.5 3703.0M609.3 3630.4L609.3 3703.0M737.1 3630.4L737.1 3703.0M161.9 3739.3L161.9 3811.9M289.7 3739.3L289.7 3811.9M417.6 3739.3L417.6 3811.9M545.4 3739.3L545.4 3811.9M673.2 3739.3L673.2 3811.9M225.8 3848.2L225.8 3920.8M353.7 3848.2L353.7 3920.8M481.5 3848.2L481.5 3920.8M609.3 3848.2L609.3 3920.8M737.1 3848.2L737.1 3920.8M161.9 3957.1L161.9 4029.7M289.7 3957.1L289.7 4029.7M417.6 3957.1L417.6 4029.7M545.4 3957.1L545.4 4029.7M673.2 3957.1L673.2 4029.7M225.8 4066.0L225.8 4138.6M353.7 4066.0L353.7 4138.6M481.5 4066.0L481.5 4138.6M609.3 4066.0L609.3 4138.6M737.1 4066.0L737.1 4138.6M865.0 4066.0L865.0 4138.6M417.6 4174.8L417.6 4247.4M545.4 4174.8L545.4 4247.4M673.2 4174.8L673.2 4247.4M801.1 4174.8L801.1 4247.4M928.9 4174.8L928.9 4247.4M609.3 4283.7L609.3 4356.3M737.1 4283.7L737.1 4356.3M865.0 4283.7L865.0 4356.3M801.1 4392.6L801.1 4465.2M928.9 4392.6L928.9 4465.2"/>
<text class="ht" x="96.0" y="3353.7">10,0</text>
<text class="ht w" x="223.8" y="3353.7">11,0</text>
<text class="ht" x="351.7" y="3353.7">12,0</text>
<text class="ht" x="479.5" y="3353.7">13,0</text>
<text class="ht w" x="607.3" y="3353.7">14,0</text>
<text class="ht" x="735.1" y="3353.7">15,0</text>
<text class="ht" x="159.9" y="3462.6">10,1</text>
<text class="ht" x="287.7" y="3462.6">11,1</text>
<text class="ht w" x="415.6" y="3462.6">12,1</text>
<text class="ht" x="543.4" y="3462.6">13,1</text>
<text class="ht w" x="671.2" y="3462.6">14,1</text>
<text class="ht" x="799.1" y="3462.6">15,1</text>
<text class="ht" x="96.0" y="3571.5">9,2</text>
<text class="ht w" x="223.8" y="3571.5">10,2</text>
<text class="ht" x="351.7" y="3571.5">11,2</text>
<text class="ht" x="479.5" y="3571.5">12,2</text>
<text class="ht w" x="607.3" y="3571.5">13,2</text>
<text class="ht" x="735.1" y="3571.5">14,2</text>
<text class="ht" x="159.9" y="3680.3">9,3</text>
<text class="ht" x="287.7" y="3680.3">10,3</text>
<text class="ht w" x="415.6" y="3680.3">11,3</text>
<text class="ht" x="543.4" y="3680.3">12,3</text>
<text class="ht w" x="671.2" y="3680.3">13,3</text>
<text class="ht" x="799.1" y="3680.3">14,3</text>
<text class="ht" x="96.0" y="3789.2">8,4</text>
<text class="ht w" x="223.8" y="3789.2">9,4</text>
<text class="ht" x="351.7" y="3789.2">10,4</text>
<text class="ht w" x="479.5" y="3789.2">11,4</text>
<text class="ht w" x="607.3" y="3789.2">12,4</text>
<text class="ht" x="735.1" y="3789.2">13,4</text>
<text class="ht" x="159.9" y="3898.1">8,5</text>
<text class="ht" x="287.7" y="3898.1">9,5</text>
<text class="ht w" x="415.6" y="3898.1">10,5</text>
<text class="ht" x="543.4" y="3898.1">11,5</text>
<text class="ht w" x="671.2" y="3898.1">12,5</text>
<text class="ht" x="799.1" y="3898.1">13,5</text>
<text class="ht" x="96.0" y="4007.0">7,6</text>
<text class="ht w" x="223.8" y="4007.0">8,6</text>
<text class="ht" x="351.7" y="4007.0">9,6</text>
<text class="ht w" x="479.5" y="4007.0">10,6</text>
<text class="ht w" x="607.3" y="4007.0">11,6</text>
<text class="ht" x="735.1" y="4007.0">12,6</text>
<text class="ht" x="159.9" y="4115.9">7,7</text>
<text class="ht w" x="287.7" y="4115.9">8,7</text>
<text class="ht" x="415.6" y="4115.9">9,7</text>
<text class="ht" x="543.4" y="4115.9">10,7</text>
<text class="ht w" x="671.2" y="4115.9">11,7</text>
<text class="ht" x="799.1" y="4115.9">12,7</text>
<text class="ht" x="926.9" y="4115.9">13,7</text>
<text class="ht" x="351.7" y="4224.7">8,8</text>
<text class="ht" x="479.5" y="4224.7">9,8</text>
<text class="ht w" x="607.3" y="4224.7">10,8</text>
<text class="ht" x="735.1" y="4224.7">11,8</text>
<text class="ht" x="863.0" y="4224.7">12,8</text>
<text class="ht" x="990.8" y="4224.7">13,8</text>
<text class="ht" x="543.4" y="4333.6">9,9</text>
<text class="ht w" x="671.2" y="4333.6">10,9</text>
<text class="ht" x="799.1" y="4333.6">11,9</text>
<text class="ht" x="926.9" y="4333.6">12,9</text>
<text class="ht" x="735.1" y="4442.5">10,10</text>
<text class="ht" x="863.0" y="4442.5">11,10</text>
<text class="ht" x="990.8" y="4442.5">12,10</text>
<path class="arc" d="M382.2 3258.0C382.7 3271.4 385.1 3306.3 385.4 3338.2C385.7 3370.1 385.3 3418.9 384.1 3449.5C382.9 3480.1 380.3 3499.1 378.2 3521.5C376.1 3543.9 374.4 3562.4 371.7 3583.7C369.0 3605.0 365.9 3625.6 361.9 3649.2C357.8 3672.8 352.2 3702.3 347.4 3725.0C342.6 3747.7 337.9 3765.6 333.0 3785.5C328.1 3805.4 323.4 3825.8 318.2 3844.4C313.0 3863.0 307.6 3879.4 301.9 3896.8C296.2 3914.2 290.4 3931.7 283.9 3949.1C277.3 3966.5 270.0 3984.0 262.6 4001.5C255.2 4019.0 247.3 4037.5 239.7 4053.9C232.1 4070.3 225.0 4083.9 216.8 4099.7C208.6 4115.5 199.6 4132.2 190.6 4148.8C181.6 4165.4 167.3 4191.1 162.7 4199.5"/>
<path class="arc" d="M1079.3 4117.4C1075.7 4128.9 1066.2 4161.8 1057.8 4186.2C1049.4 4210.6 1040.1 4235.3 1029.1 4263.5C1018.1 4291.7 1003.3 4328.5 991.9 4355.2C980.5 4381.9 969.5 4404.8 960.4 4423.9C951.3 4443.0 946.1 4452.8 937.5 4469.7C928.9 4486.6 913.6 4516.3 908.8 4525.6"/>
<text class="hl" x="162.0" y="4240.5">1.0 nm</text>
<text class="hl" x="896.7" y="4565.7">1.5 nm</text>
<rect x="898.8" y="3305.0" width="36.5" height="680.0" fill="url(#jet)"/>
<text class="cb" x="967.0" y="4003.4">0</text>
<line x1="898.8" y1="3909.4" x2="935.3" y2="3909.4" stroke="#000" stroke-opacity="0.6" stroke-width="2.6"/>
<text class="cb" x="967.0" y="3927.8">10</text>
<line x1="898.8" y1="3833.9" x2="935.3" y2="3833.9" stroke="#000" stroke-opacity="0.6" stroke-width="2.6"/>
<text class="cb" x="967.0" y="3852.3">20</text>
<line x1="898.8" y1="3758.3" x2="935.3" y2="3758.3" stroke="#000" stroke-opacity="0.6" stroke-width="2.6"/>
<text class="cb" x="967.0" y="3776.7">30</text>
<line x1="898.8" y1="3682.8" x2="935.3" y2="3682.8" stroke="#000" stroke-opacity="0.6" stroke-width="2.6"/>
<text class="cb" x="967.0" y="3701.2">40</text>
<line x1="898.8" y1="3607.2" x2="935.3" y2="3607.2" stroke="#000" stroke-opacity="0.6" stroke-width="2.6"/>
<text class="cb" x="967.0" y="3625.6">50</text>
<line x1="898.8" y1="3531.7" x2="935.3" y2="3531.7" stroke="#000" stroke-opacity="0.6" stroke-width="2.6"/>
<text class="cb" x="967.0" y="3550.1">60</text>
<line x1="898.8" y1="3456.1" x2="935.3" y2="3456.1" stroke="#000" stroke-opacity="0.6" stroke-width="2.6"/>
<text class="cb" x="967.0" y="3474.5">70</text>
<line x1="898.8" y1="3380.6" x2="935.3" y2="3380.6" stroke="#000" stroke-opacity="0.6" stroke-width="2.6"/>
<text class="cb" x="967.0" y="3399.0">80</text>
<text class="cb" x="967.0" y="3323.4">90</text>
<rect x="899.8" y="3306.0" width="34.5" height="678.0" fill="none" stroke="#3a3a3a" stroke-opacity="0.75" stroke-width="2"/>
</g>
<g id="map-d">
<polygon fill="#e1e2e1" points="1161.4,3267.5 1225.3,3303.8 1225.3,3376.4 1161.4,3412.7 1097.5,3376.4 1097.5,3303.8"/>
<polygon fill="#989898" points="1289.2,3267.5 1353.1,3303.8 1353.1,3376.4 1289.2,3412.7 1225.3,3376.4 1225.3,3303.8"/>
<polygon fill="#e1e2e1" points="1544.9,3267.5 1608.8,3303.8 1608.8,3376.4 1544.9,3412.7 1481.0,3376.4 1481.0,3303.8"/>
<polygon fill="#2c358c" points="1672.7,3267.5 1736.6,3303.8 1736.6,3376.4 1672.7,3412.7 1608.8,3376.4 1608.8,3303.8"/>
<polygon fill="#e1e2e1" points="1353.1,3376.4 1417.1,3412.7 1417.1,3485.3 1353.1,3521.6 1289.2,3485.3 1289.2,3412.7"/>
<polygon fill="#989898" points="1481.0,3376.4 1544.9,3412.7 1544.9,3485.3 1481.0,3521.6 1417.1,3485.3 1417.1,3412.7"/>
<polygon fill="#989898" points="1736.6,3376.4 1800.6,3412.7 1800.6,3485.3 1736.6,3521.6 1672.7,3485.3 1672.7,3412.7"/>
<polygon fill="#e1e2e1" points="1864.5,3376.4 1928.4,3412.7 1928.4,3485.3 1864.5,3521.6 1800.6,3485.3 1800.6,3412.7"/>
<polygon fill="#e1e2e1" points="1161.4,3485.3 1225.3,3521.6 1225.3,3594.2 1161.4,3630.4 1097.5,3594.2 1097.5,3521.6"/>
<polygon fill="#989898" points="1289.2,3485.3 1353.1,3521.6 1353.1,3594.2 1289.2,3630.4 1225.3,3594.2 1225.3,3521.6"/>
<polygon fill="#e1e2e1" points="1544.9,3485.3 1608.8,3521.6 1608.8,3594.2 1544.9,3630.4 1481.0,3594.2 1481.0,3521.6"/>
<polygon fill="#989898" points="1672.7,3485.3 1736.6,3521.6 1736.6,3594.2 1672.7,3630.4 1608.8,3594.2 1608.8,3521.6"/>
<polygon fill="#e1e2e1" points="1353.1,3594.2 1417.1,3630.4 1417.1,3703.0 1353.1,3739.3 1289.2,3703.0 1289.2,3630.4"/>
<polygon fill="#2c358c" points="1481.0,3594.2 1544.9,3630.4 1544.9,3703.0 1481.0,3739.3 1417.1,3703.0 1417.1,3630.4"/>
<polygon fill="#33479d" points="1736.6,3594.2 1800.6,3630.4 1800.6,3703.0 1736.6,3739.3 1672.7,3703.0 1672.7,3630.4"/>
<polygon fill="#e1e2e1" points="1864.5,3594.2 1928.4,3630.4 1928.4,3703.0 1864.5,3739.3 1800.6,3703.0 1800.6,3630.4"/>
<polygon fill="#e1e2e1" points="1161.4,3703.0 1225.3,3739.3 1225.3,3811.9 1161.4,3848.2 1097.5,3811.9 1097.5,3739.3"/>
<polygon fill="#989898" points="1289.2,3703.0 1353.1,3739.3 1353.1,3811.9 1289.2,3848.2 1225.3,3811.9 1225.3,3739.3"/>
<polygon fill="#2c358c" points="1544.9,3703.0 1608.8,3739.3 1608.8,3811.9 1544.9,3848.2 1481.0,3811.9 1481.0,3739.3"/>
<polygon fill="#2e3d96" points="1672.7,3703.0 1736.6,3739.3 1736.6,3811.9 1672.7,3848.2 1608.8,3811.9 1608.8,3739.3"/>
<polygon fill="#e1e2e1" points="1353.1,3811.9 1417.1,3848.2 1417.1,3920.8 1353.1,3957.1 1289.2,3920.8 1289.2,3848.2"/>
<polygon fill="#3f7fc1" points="1481.0,3811.9 1544.9,3848.2 1544.9,3920.8 1481.0,3957.1 1417.1,3920.8 1417.1,3848.2"/>
<polygon fill="#3b59a8" points="1736.6,3811.9 1800.6,3848.2 1800.6,3920.8 1736.6,3957.1 1672.7,3920.8 1672.7,3848.2"/>
<polygon fill="#e1e2e1" points="1864.5,3811.9 1928.4,3848.2 1928.4,3920.8 1864.5,3957.1 1800.6,3920.8 1800.6,3848.2"/>
<polygon fill="#e1e2e1" points="1161.4,3920.8 1225.3,3957.1 1225.3,4029.7 1161.4,4066.0 1097.5,4029.7 1097.5,3957.1"/>
<polygon fill="#989898" points="1289.2,3920.8 1353.1,3957.1 1353.1,4029.7 1289.2,4066.0 1225.3,4029.7 1225.3,3957.1"/>
<polygon fill="#33479d" points="1544.9,3920.8 1608.8,3957.1 1608.8,4029.7 1544.9,4066.0 1481.0,4029.7 1481.0,3957.1"/>
<polygon fill="#374fa2" points="1672.7,3920.8 1736.6,3957.1 1736.6,4029.7 1672.7,4066.0 1608.8,4029.7 1608.8,3957.1"/>
<polygon fill="#33479d" points="1353.1,4029.7 1417.1,4066.0 1417.1,4138.6 1353.1,4174.8 1289.2,4138.6 1289.2,4066.0"/>
<polygon fill="#b91f24" points="1481.0,4029.7 1544.9,4066.0 1544.9,4138.6 1481.0,4174.8 1417.1,4138.6 1417.1,4066.0"/>
<polygon fill="#989898" points="1736.6,4029.7 1800.6,4066.0 1800.6,4138.6 1736.6,4174.8 1672.7,4138.6 1672.7,4066.0"/>
<polygon fill="#e1e2e1" points="1864.5,4029.7 1928.4,4066.0 1928.4,4138.6 1864.5,4174.8 1800.6,4138.6 1800.6,4066.0"/>
<polygon fill="#ed2724" points="1544.9,4138.6 1608.8,4174.8 1608.8,4247.4 1544.9,4283.7 1481.0,4247.4 1481.0,4174.8"/>
<polygon fill="#2c358c" points="1672.7,4138.6 1736.6,4174.8 1736.6,4247.4 1672.7,4283.7 1608.8,4247.4 1608.8,4174.8"/>
<polygon fill="#e1e2e1" points="1928.4,4138.6 1992.3,4174.8 1992.3,4247.4 1928.4,4283.7 1864.5,4247.4 1864.5,4174.8"/>
<polygon fill="#e1e2e1" points="2056.2,4138.6 2120.1,4174.8 2120.1,4247.4 2056.2,4283.7 1992.3,4247.4 1992.3,4174.8"/>
<polygon fill="#989898" points="1736.6,4247.4 1800.6,4283.7 1800.6,4356.3 1736.6,4392.6 1672.7,4356.3 1672.7,4283.7"/>
<polygon fill="#e1e2e1" points="1864.5,4247.4 1928.4,4283.7 1928.4,4356.3 1864.5,4392.6 1800.6,4356.3 1800.6,4283.7"/>
<polygon fill="#e1e2e1" points="1928.4,4356.3 1992.3,4392.6 1992.3,4465.2 1928.4,4501.5 1864.5,4465.2 1864.5,4392.6"/>
<polygon fill="#e1e2e1" points="2056.2,4356.3 2120.1,4392.6 2120.1,4465.2 2056.2,4501.5 1992.3,4465.2 1992.3,4392.6"/>
<path class="he" stroke-width="2.7" d="M1161.4 3267.5L1225.3 3303.8M1161.4 3412.7L1097.5 3376.4M1097.5 3376.4L1097.5 3303.8M1097.5 3303.8L1161.4 3267.5M1289.2 3267.5L1353.1 3303.8M1225.3 3303.8L1289.2 3267.5M1417.1 3267.5L1481.0 3303.8M1353.1 3303.8L1417.1 3267.5M1544.9 3267.5L1608.8 3303.8M1481.0 3303.8L1544.9 3267.5M1672.7 3267.5L1736.6 3303.8M1608.8 3303.8L1672.7 3267.5M1800.6 3267.5L1864.5 3303.8M1864.5 3303.8L1864.5 3376.4M1736.6 3303.8L1800.6 3267.5M1161.4 3485.3L1161.4 3412.7M1864.5 3376.4L1928.4 3412.7M1928.4 3412.7L1928.4 3485.3M1928.4 3485.3L1864.5 3521.6M1161.4 3630.4L1097.5 3594.2M1097.5 3594.2L1097.5 3521.6M1097.5 3521.6L1161.4 3485.3M1864.5 3521.6L1864.5 3594.2M1161.4 3703.0L1161.4 3630.4M1864.5 3594.2L1928.4 3630.4M1928.4 3630.4L1928.4 3703.0M1928.4 3703.0L1864.5 3739.3M1161.4 3848.2L1097.5 3811.9M1097.5 3811.9L1097.5 3739.3M1097.5 3739.3L1161.4 3703.0M1864.5 3739.3L1864.5 3811.9M1161.4 3920.8L1161.4 3848.2M1864.5 3811.9L1928.4 3848.2M1928.4 3848.2L1928.4 3920.8M1928.4 3920.8L1864.5 3957.1M1161.4 4066.0L1097.5 4029.7M1097.5 4029.7L1097.5 3957.1M1097.5 3957.1L1161.4 3920.8M1864.5 3957.1L1864.5 4029.7M1289.2 4138.6L1225.3 4174.8M1225.3 4174.8L1161.4 4138.6M1161.4 4138.6L1161.4 4066.0M1353.1 4174.8L1289.2 4138.6M1864.5 4029.7L1928.4 4066.0M1992.3 4029.7L2056.2 4066.0M2056.2 4066.0L2056.2 4138.6M1928.4 4066.0L1992.3 4029.7M1481.0 4247.4L1417.1 4283.7M1417.1 4283.7L1353.1 4247.4M1353.1 4247.4L1353.1 4174.8M1544.9 4283.7L1481.0 4247.4M2056.2 4138.6L2120.1 4174.8M2120.1 4174.8L2120.1 4247.4M2120.1 4247.4L2056.2 4283.7M1672.7 4356.3L1608.8 4392.6M1608.8 4392.6L1544.9 4356.3M1544.9 4356.3L1544.9 4283.7M1736.6 4392.6L1672.7 4356.3M2056.2 4283.7L2056.2 4356.3M1864.5 4465.2L1800.6 4501.5M1800.6 4501.5L1736.6 4465.2M1736.6 4465.2L1736.6 4392.6M1992.3 4465.2L1928.4 4501.5M1928.4 4501.5L1864.5 4465.2M2056.2 4356.3L2120.1 4392.6M2120.1 4392.6L2120.1 4465.2M2120.1 4465.2L2056.2 4501.5M2056.2 4501.5L1992.3 4465.2"/>
<path class="he" stroke-width="3.7" d="M1225.3 3376.4L1161.4 3412.7M1353.1 3376.4L1289.2 3412.7M1289.2 3412.7L1225.3 3376.4M1481.0 3376.4L1417.1 3412.7M1417.1 3412.7L1353.1 3376.4M1608.8 3376.4L1544.9 3412.7M1544.9 3412.7L1481.0 3376.4M1736.6 3376.4L1672.7 3412.7M1672.7 3412.7L1608.8 3376.4M1864.5 3376.4L1800.6 3412.7M1800.6 3412.7L1736.6 3376.4M1289.2 3485.3L1225.3 3521.6M1225.3 3521.6L1161.4 3485.3M1417.1 3485.3L1353.1 3521.6M1353.1 3521.6L1289.2 3485.3M1544.9 3485.3L1481.0 3521.6M1481.0 3521.6L1417.1 3485.3M1672.7 3485.3L1608.8 3521.6M1608.8 3521.6L1544.9 3485.3M1800.6 3485.3L1736.6 3521.6M1736.6 3521.6L1672.7 3485.3M1864.5 3521.6L1800.6 3485.3M1225.3 3594.2L1161.4 3630.4M1353.1 3594.2L1289.2 3630.4M1289.2 3630.4L1225.3 3594.2M1481.0 3594.2L1417.1 3630.4M1417.1 3630.4L1353.1 3594.2M1608.8 3594.2L1544.9 3630.4M1544.9 3630.4L1481.0 3594.2M1736.6 3594.2L1672.7 3630.4M1672.7 3630.4L1608.8 3594.2M1864.5 3594.2L1800.6 3630.4M1800.6 3630.4L1736.6 3594.2M1289.2 3703.0L1225.3 3739.3M1225.3 3739.3L1161.4 3703.0M1417.1 3703.0L1353.1 3739.3M1353.1 3739.3L1289.2 3703.0M1544.9 3703.0L1481.0 3739.3M1481.0 3739.3L1417.1 3703.0M1672.7 3703.0L1608.8 3739.3M1608.8 3739.3L1544.9 3703.0M1800.6 3703.0L1736.6 3739.3M1736.6 3739.3L1672.7 3703.0M1864.5 3739.3L1800.6 3703.0M1225.3 3811.9L1161.4 3848.2M1353.1 3811.9L1289.2 3848.2M1289.2 3848.2L1225.3 3811.9M1481.0 3811.9L1417.1 3848.2M1417.1 3848.2L1353.1 3811.9M1608.8 3811.9L1544.9 3848.2M1544.9 3848.2L1481.0 3811.9M1736.6 3811.9L1672.7 3848.2M1672.7 3848.2L1608.8 3811.9M1864.5 3811.9L1800.6 3848.2M1800.6 3848.2L1736.6 3811.9M1289.2 3920.8L1225.3 3957.1M1225.3 3957.1L1161.4 3920.8M1417.1 3920.8L1353.1 3957.1M1353.1 3957.1L1289.2 3920.8M1544.9 3920.8L1481.0 3957.1M1481.0 3957.1L1417.1 3920.8M1672.7 3920.8L1608.8 3957.1M1608.8 3957.1L1544.9 3920.8M1800.6 3920.8L1736.6 3957.1M1736.6 3957.1L1672.7 3920.8M1864.5 3957.1L1800.6 3920.8M1225.3 4029.7L1161.4 4066.0M1353.1 4029.7L1289.2 4066.0M1289.2 4066.0L1225.3 4029.7M1481.0 4029.7L1417.1 4066.0M1417.1 4066.0L1353.1 4029.7M1608.8 4029.7L1544.9 4066.0M1544.9 4066.0L1481.0 4029.7M1736.6 4029.7L1672.7 4066.0M1672.7 4066.0L1608.8 4029.7M1864.5 4029.7L1800.6 4066.0M1800.6 4066.0L1736.6 4029.7M1417.1 4138.6L1353.1 4174.8M1544.9 4138.6L1481.0 4174.8M1481.0 4174.8L1417.1 4138.6M1672.7 4138.6L1608.8 4174.8M1608.8 4174.8L1544.9 4138.6M1800.6 4138.6L1736.6 4174.8M1736.6 4174.8L1672.7 4138.6M1928.4 4138.6L1864.5 4174.8M1864.5 4174.8L1800.6 4138.6M2056.2 4138.6L1992.3 4174.8M1992.3 4174.8L1928.4 4138.6M1608.8 4247.4L1544.9 4283.7M1736.6 4247.4L1672.7 4283.7M1672.7 4283.7L1608.8 4247.4M1864.5 4247.4L1800.6 4283.7M1800.6 4283.7L1736.6 4247.4M1992.3 4247.4L1928.4 4283.7M1928.4 4283.7L1864.5 4247.4M2056.2 4283.7L1992.3 4247.4M1800.6 4356.3L1736.6 4392.6M1928.4 4356.3L1864.5 4392.6M1864.5 4392.6L1800.6 4356.3M2056.2 4356.3L1992.3 4392.6M1992.3 4392.6L1928.4 4356.3"/>
<path class="he" style="stroke-linecap:butt" stroke-width="6.4" d="M1225.3 3303.8L1225.3 3376.4M1353.1 3303.8L1353.1 3376.4M1481.0 3303.8L1481.0 3376.4M1608.8 3303.8L1608.8 3376.4M1736.6 3303.8L1736.6 3376.4M1289.2 3412.7L1289.2 3485.3M1417.1 3412.7L1417.1 3485.3M1544.9 3412.7L1544.9 3485.3M1672.7 3412.7L1672.7 3485.3M1800.6 3412.7L1800.6 3485.3M1225.3 3521.6L1225.3 3594.2M1353.1 3521.6L1353.1 3594.2M1481.0 3521.6L1481.0 3594.2M1608.8 3521.6L1608.8 3594.2M1736.6 3521.6L1736.6 3594.2M1289.2 3630.4L1289.2 3703.0M1417.1 3630.4L1417.1 3703.0M1544.9 3630.4L1544.9 3703.0M1672.7 3630.4L1672.7 3703.0M1800.6 3630.4L1800.6 3703.0M1225.3 3739.3L1225.3 3811.9M1353.1 3739.3L1353.1 3811.9M1481.0 3739.3L1481.0 3811.9M1608.8 3739.3L1608.8 3811.9M1736.6 3739.3L1736.6 3811.9M1289.2 3848.2L1289.2 3920.8M1417.1 3848.2L1417.1 3920.8M1544.9 3848.2L1544.9 3920.8M1672.7 3848.2L1672.7 3920.8M1800.6 3848.2L1800.6 3920.8M1225.3 3957.1L1225.3 4029.7M1353.1 3957.1L1353.1 4029.7M1481.0 3957.1L1481.0 4029.7M1608.8 3957.1L1608.8 4029.7M1736.6 3957.1L1736.6 4029.7M1289.2 4066.0L1289.2 4138.6M1417.1 4066.0L1417.1 4138.6M1544.9 4066.0L1544.9 4138.6M1672.7 4066.0L1672.7 4138.6M1800.6 4066.0L1800.6 4138.6M1928.4 4066.0L1928.4 4138.6M1481.0 4174.8L1481.0 4247.4M1608.8 4174.8L1608.8 4247.4M1736.6 4174.8L1736.6 4247.4M1864.5 4174.8L1864.5 4247.4M1992.3 4174.8L1992.3 4247.4M1672.7 4283.7L1672.7 4356.3M1800.6 4283.7L1800.6 4356.3M1928.4 4283.7L1928.4 4356.3M1864.5 4392.6L1864.5 4465.2M1992.3 4392.6L1992.3 4465.2"/>
<text class="ht" x="1159.4" y="3353.7">10,0</text>
<text class="ht w" x="1287.2" y="3353.7">11,0</text>
<text class="ht" x="1415.1" y="3353.7">12,0</text>
<text class="ht" x="1542.9" y="3353.7">13,0</text>
<text class="ht w" x="1670.7" y="3353.7">14,0</text>
<text class="ht" x="1798.6" y="3353.7">15,0</text>
<text class="ht" x="1223.3" y="3462.6">10,1</text>
<text class="ht" x="1351.1" y="3462.6">11,1</text>
<text class="ht w" x="1479.0" y="3462.6">12,1</text>
<text class="ht" x="1606.8" y="3462.6">13,1</text>
<text class="ht w" x="1734.6" y="3462.6">14,1</text>
<text class="ht" x="1862.5" y="3462.6">15,1</text>
<text class="ht" x="1159.4" y="3571.5">9,2</text>
<text class="ht w" x="1287.2" y="3571.5">10,2</text>
<text class="ht" x="1415.1" y="3571.5">11,2</text>
<text class="ht" x="1542.9" y="3571.5">12,2</text>
<text class="ht w" x="1670.7" y="3571.5">13,2</text>
<text class="ht" x="1798.6" y="3571.5">14,2</text>
<text class="ht" x="1223.3" y="3680.3">9,3</text>
<text class="ht" x="1351.1" y="3680.3">10,3</text>
<text class="ht w" x="1479.0" y="3680.3">11,3</text>
<text class="ht" x="1606.8" y="3680.3">12,3</text>
<text class="ht w" x="1734.6" y="3680.3">13,3</text>
<text class="ht" x="1862.5" y="3680.3">14,3</text>
<text class="ht" x="1159.4" y="3789.2">8,4</text>
<text class="ht w" x="1287.2" y="3789.2">9,4</text>
<text class="ht" x="1415.1" y="3789.2">10,4</text>
<text class="ht w" x="1542.9" y="3789.2">11,4</text>
<text class="ht w" x="1670.7" y="3789.2">12,4</text>
<text class="ht" x="1798.6" y="3789.2">13,4</text>
<text class="ht" x="1223.3" y="3898.1">8,5</text>
<text class="ht" x="1351.1" y="3898.1">9,5</text>
<text class="ht w" x="1479.0" y="3898.1">10,5</text>
<text class="ht" x="1606.8" y="3898.1">11,5</text>
<text class="ht w" x="1734.6" y="3898.1">12,5</text>
<text class="ht" x="1862.5" y="3898.1">13,5</text>
<text class="ht" x="1159.4" y="4007.0">7,6</text>
<text class="ht w" x="1287.2" y="4007.0">8,6</text>
<text class="ht" x="1415.1" y="4007.0">9,6</text>
<text class="ht w" x="1542.9" y="4007.0">10,6</text>
<text class="ht w" x="1670.7" y="4007.0">11,6</text>
<text class="ht" x="1798.6" y="4007.0">12,6</text>
<text class="ht" x="1223.3" y="4115.9">7,7</text>
<text class="ht w" x="1351.1" y="4115.9">8,7</text>
<text class="ht" x="1479.0" y="4115.9">9,7</text>
<text class="ht" x="1606.8" y="4115.9">10,7</text>
<text class="ht w" x="1734.6" y="4115.9">11,7</text>
<text class="ht" x="1862.5" y="4115.9">12,7</text>
<text class="ht" x="1990.3" y="4115.9">13,7</text>
<text class="ht" x="1415.1" y="4224.7">8,8</text>
<text class="ht" x="1542.9" y="4224.7">9,8</text>
<text class="ht w" x="1670.7" y="4224.7">10,8</text>
<text class="ht" x="1798.6" y="4224.7">11,8</text>
<text class="ht" x="1926.4" y="4224.7">12,8</text>
<text class="ht" x="2054.2" y="4224.7">13,8</text>
<text class="ht" x="1606.8" y="4333.6">9,9</text>
<text class="ht w" x="1734.6" y="4333.6">10,9</text>
<text class="ht" x="1862.5" y="4333.6">11,9</text>
<text class="ht" x="1990.3" y="4333.6">12,9</text>
<text class="ht" x="1798.6" y="4442.5">10,10</text>
<text class="ht" x="1926.4" y="4442.5">11,10</text>
<text class="ht" x="2054.2" y="4442.5">12,10</text>
<path class="arc" d="M1445.6 3258.0C1446.1 3271.4 1448.5 3306.3 1448.8 3338.2C1449.1 3370.1 1448.7 3418.9 1447.5 3449.5C1446.3 3480.1 1443.7 3499.1 1441.6 3521.5C1439.5 3543.9 1437.8 3562.4 1435.1 3583.7C1432.4 3605.0 1429.4 3625.6 1425.3 3649.2C1421.3 3672.8 1415.6 3702.3 1410.8 3725.0C1406.0 3747.7 1401.3 3765.6 1396.4 3785.5C1391.5 3805.4 1386.8 3825.8 1381.6 3844.4C1376.4 3863.0 1371.0 3879.4 1365.3 3896.8C1359.6 3914.2 1353.9 3931.7 1347.3 3949.1C1340.8 3966.5 1333.4 3984.0 1326.0 4001.5C1318.6 4019.0 1310.7 4037.5 1303.1 4053.9C1295.5 4070.3 1288.4 4083.9 1280.2 4099.7C1272.0 4115.5 1263.0 4132.2 1254.0 4148.8C1245.0 4165.4 1230.8 4191.1 1226.1 4199.5"/>
<path class="arc" d="M2142.7 4117.4C2139.1 4128.9 2129.6 4161.8 2121.2 4186.2C2112.8 4210.6 2103.5 4235.3 2092.5 4263.5C2081.5 4291.7 2066.8 4328.5 2055.3 4355.2C2043.9 4381.9 2032.9 4404.8 2023.8 4423.9C2014.7 4443.0 2009.5 4452.8 2000.9 4469.7C1992.3 4486.6 1977.0 4516.3 1972.2 4525.6"/>
<text class="hl" x="1225.4" y="4240.5">1.0 nm</text>
<text class="hl" x="1960.1" y="4565.7">1.5 nm</text>
<rect x="1962.2" y="3305.0" width="36.5" height="680.0" fill="url(#jet)"/>
<text class="cb" x="2030.4" y="4003.4">0</text>
<line x1="1962.2" y1="3871.7" x2="1998.7" y2="3871.7" stroke="#000" stroke-opacity="0.6" stroke-width="2.6"/>
<text class="cb" x="2030.4" y="3890.1">5</text>
<line x1="1962.2" y1="3758.3" x2="1998.7" y2="3758.3" stroke="#000" stroke-opacity="0.6" stroke-width="2.6"/>
<text class="cb" x="2030.4" y="3776.7">10</text>
<line x1="1962.2" y1="3645.0" x2="1998.7" y2="3645.0" stroke="#000" stroke-opacity="0.6" stroke-width="2.6"/>
<text class="cb" x="2030.4" y="3663.4">15</text>
<line x1="1962.2" y1="3531.7" x2="1998.7" y2="3531.7" stroke="#000" stroke-opacity="0.6" stroke-width="2.6"/>
<text class="cb" x="2030.4" y="3550.1">20</text>
<line x1="1962.2" y1="3418.3" x2="1998.7" y2="3418.3" stroke="#000" stroke-opacity="0.6" stroke-width="2.6"/>
<text class="cb" x="2030.4" y="3436.7">25</text>
<text class="cb" x="2030.4" y="3323.4">30</text>
<rect x="1963.2" y="3306.0" width="34.5" height="678.0" fill="none" stroke="#3a3a3a" stroke-opacity="0.75" stroke-width="2"/>
</g>
<text class="cb" text-anchor="middle" transform="translate(1055,3648.6) rotate(-90)">Count</text>
<text class="cb" text-anchor="middle" transform="translate(2118.4,3648.6) rotate(-90)">Count</text>
<text class="pn" x="39.6 77.6 155" y="145.4 149 145.4">(a)</text>
<text class="pn" x="39.7 78.1 160.1" y="1726.3 1728 1726.3">(b)</text>
<text class="pn" x="86.7 127.7 200.5" y="4515.8 4518.1 4515.8">(c)</text>
<text class="pn" x="1153.6 1194.3 1273.7" y="4515.8 4517.1 4515.8">(d)</text>
</svg>
</body></html>
